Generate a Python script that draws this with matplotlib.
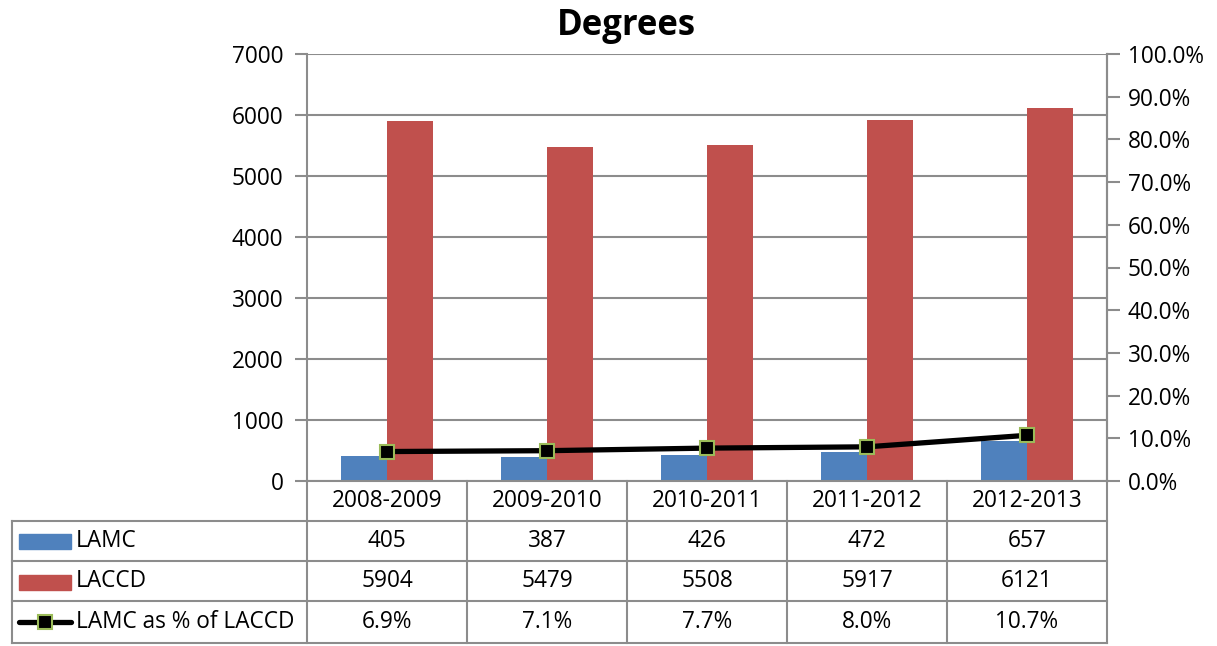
import matplotlib
matplotlib.use("Agg")
import matplotlib.pyplot as plt
from matplotlib.lines import Line2D
from matplotlib.patches import Rectangle

categories = ["2008-2009", "2009-2010", "2010-2011", "2011-2012", "2012-2013"]
lamc = [405, 387, 426, 472, 657]
laccd = [5904, 5479, 5508, 5917, 6121]
pct = [6.9, 7.1, 7.7, 8.0, 10.7]
pct_labels = ["6.9%", "7.1%", "7.7%", "8.0%", "10.7%"]
series_names = ["LAMC", "LACCD", "LAMC as % of LACCD"]

plt.rcParams['font.family'] = ['Open Sans', 'DejaVu Sans']
FS = 16.3
BLUE = "#4F81BD"
RED = "#C0504D"
GRID = "#8C8C8C"
GREEN = "#9BBB59"

W, H = 1217, 646
fig = plt.figure(figsize=(W / 100, H / 100), dpi=100)
x0, x1, ytop, ybot = 307, 1107, 54, 481
ax = fig.add_axes([x0 / W, 1 - ybot / H, (x1 - x0) / W, (ybot - ytop) / H])

n = len(categories)
xs = list(range(n))
bw = 0.29
ax.bar([x - bw / 2 for x in xs], lamc, width=bw, color=BLUE, zorder=2)
ax.bar([x + bw / 2 for x in xs], laccd, width=bw, color=RED, zorder=2)
ax.set_xlim(-0.5, n - 0.5)
ax.set_ylim(0, 7000)
ax.set_yticks(range(0, 7001, 1000))
ax.yaxis.grid(True, color=GRID, linewidth=1.5, zorder=0)
ax.set_axisbelow(True)
ax.set_xticks([])
ax.spines["top"].set_visible(False)
for s in ["left", "right", "bottom"]:
    ax.spines[s].set_color(GRID)
    ax.spines[s].set_linewidth(1.5)
ax.tick_params(axis="y", length=9, width=1.5, color=GRID, labelsize=FS, pad=8)

ax2 = ax.twinx()
ax2.plot(xs, pct, color="black", linewidth=3.8, marker="s", markersize=10,
         markerfacecolor="black", markeredgecolor=GREEN, markeredgewidth=1.5, zorder=5)
ax2.set_ylim(0, 100)
ax2.set_yticks(range(0, 101, 10))
ax2.set_yticklabels([f"{v:.1f}%" for v in range(0, 101, 10)])
ax2.tick_params(axis="y", length=9, width=1.5, color=GRID, labelsize=FS, pad=6)
for s in ["top", "left", "bottom"]:
    ax2.spines[s].set_visible(False)
ax2.spines["right"].set_color(GRID)
ax2.spines["right"].set_linewidth(1.5)
ax2.set_xlim(-0.5, n - 0.5)

fig.text(626 / W, 1 - 26 / H, "Degrees", ha="center", va="center",
         fontsize=25, fontweight="bold")

# Data table drawn in pixel coordinates
def fx(px):
    return px / W
def fy(py):
    return 1 - py / H

col_edges = [x0 + i * (x1 - x0) / n for i in range(n + 1)]
row_edges = [481, 521, 561, 601, 643]
lw = 1.5

def hline(y, xa, xb):
    fig.add_artist(Line2D([fx(xa), fx(xb)], [fy(y), fy(y)], color=GRID, linewidth=lw))
def vline(x, ya, yb):
    fig.add_artist(Line2D([fx(x), fx(x)], [fy(ya), fy(yb)], color=GRID, linewidth=lw))

for y in row_edges[1:]:
    hline(y, 12, x1)
for x in col_edges:
    vline(x, row_edges[0], row_edges[-1])
vline(12, row_edges[1], row_edges[-1])

def cell_y(r):
    return fy((row_edges[r] + row_edges[r + 1]) / 2)

for i, c in enumerate(categories):
    cx = fx((col_edges[i] + col_edges[i + 1]) / 2)
    fig.text(cx, cell_y(0), c, ha="center", va="center", fontsize=FS)
    fig.text(cx, cell_y(1), str(lamc[i]), ha="center", va="center", fontsize=FS)
    fig.text(cx, cell_y(2), str(laccd[i]), ha="center", va="center", fontsize=FS)
    fig.text(cx, cell_y(3), pct_labels[i], ha="center", va="center", fontsize=FS)

# legend keys
fig.add_artist(Rectangle((fx(19), fy(549)), fx(71) - fx(19), fy(534) - fy(549),
                         color=BLUE))
fig.add_artist(Rectangle((fx(19), fy(590)), fx(71) - fx(19), fy(575) - fy(590),
                         color=RED))
fig.add_artist(Line2D([fx(19), fx(71)], [cell_y(3), cell_y(3)], color="black",
                      linewidth=3.8, solid_capstyle="round"))
fig.add_artist(Line2D([fx(45)], [cell_y(3)], color="black", marker="s", markersize=10,
                      markerfacecolor="black", markeredgecolor=GREEN, markeredgewidth=1.5))
for r, name in enumerate(series_names, start=1):
    fig.text(fx(76), cell_y(r), name, ha="left", va="center", fontsize=FS)

fig.savefig("out.png", dpi=100)
